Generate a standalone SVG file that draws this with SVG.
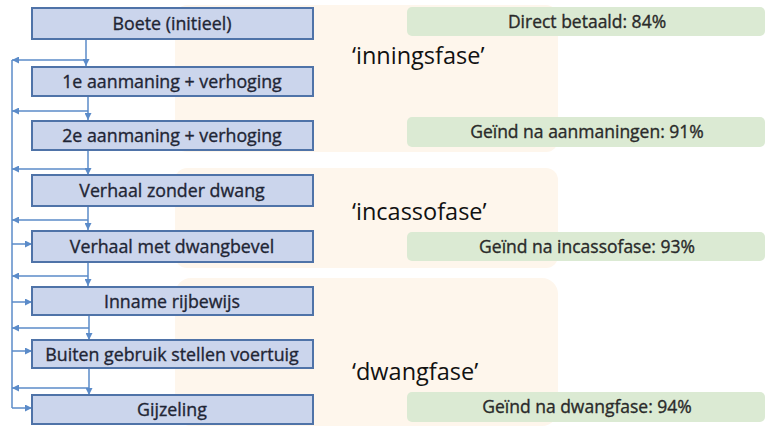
<svg xmlns="http://www.w3.org/2000/svg" width="768" height="429" viewBox="0 0 768 429">
<defs>
<style>
.phase-bg{fill:#fef6ec}
.box rect{fill:#cbd5ec;stroke:#4f73a8;stroke-width:2}
.box text{font-family:"Open Sans","Liberation Sans",sans-serif;font-size:17.8px;fill:#1f2535;stroke:#1f2535;stroke-width:0.35px;text-anchor:middle}
.res rect{fill:#dbead3}
.res text{font-family:"Open Sans","Liberation Sans",sans-serif;font-size:17.5px;fill:#2a2a2a;stroke:#2a2a2a;stroke-width:0.35px;text-anchor:middle}
.phase{font-family:"Open Sans","Liberation Sans",sans-serif;font-size:23.5px;fill:#111}
.conn line{stroke:#5b8bc9;stroke-width:1.5;fill:none}
</style>
<marker id="ah" viewBox="0 0 10 10" refX="10" refY="5" markerWidth="7" markerHeight="7" markerUnits="userSpaceOnUse" orient="auto">
<path d="M0,0 L10,5 L0,10 Z" fill="#5b8bc9"/>
</marker>
</defs>
<rect width="768" height="429" fill="#ffffff"/>
<g id="phase-backgrounds">
<rect class="phase-bg" x="175" y="5" width="383" height="147" rx="12"/>
<rect class="phase-bg" x="175" y="168" width="383" height="100" rx="12"/>
<rect class="phase-bg" x="175" y="278" width="383" height="148" rx="16"/>
</g>
<g id="connectors" class="conn">
<line x1="12" y1="60" x2="12" y2="408"/>
<line x1="86" y1="39" x2="86" y2="66" marker-end="url(#ah)"/>
<line x1="86" y1="60" x2="12" y2="60" marker-end="url(#ah)"/>
<line x1="88" y1="96" x2="88" y2="120" marker-end="url(#ah)"/>
<line x1="88" y1="111" x2="12" y2="111" marker-end="url(#ah)"/>
<line x1="88" y1="150" x2="88" y2="175" marker-end="url(#ah)"/>
<line x1="88" y1="169" x2="12" y2="169" marker-end="url(#ah)"/>
<line x1="88" y1="206" x2="88" y2="230" marker-end="url(#ah)"/>
<line x1="88" y1="220" x2="12" y2="220" marker-end="url(#ah)"/>
<line x1="88" y1="262" x2="88" y2="286" marker-end="url(#ah)"/>
<line x1="88" y1="276" x2="12" y2="276" marker-end="url(#ah)"/>
<line x1="89" y1="315" x2="89" y2="340" marker-end="url(#ah)"/>
<line x1="89" y1="328" x2="12" y2="328" marker-end="url(#ah)"/>
<line x1="89" y1="368" x2="89" y2="395" marker-end="url(#ah)"/>
<line x1="89" y1="388" x2="12" y2="388" marker-end="url(#ah)"/>
<line x1="12" y1="244" x2="32" y2="244" marker-end="url(#ah)"/>
<line x1="12" y1="302" x2="32" y2="302" marker-end="url(#ah)"/>
<line x1="12" y1="351" x2="32" y2="351" marker-end="url(#ah)"/>
<line x1="12" y1="408" x2="32" y2="408" marker-end="url(#ah)"/>
</g>
<g id="boete" class="box"><rect x="32" y="8" width="281" height="31"/><text x="172" y="30">Boete (initieel)</text></g>
<g id="aanmaning1" class="box"><rect x="32" y="67" width="281" height="29"/><text x="172" y="88">1e aanmaning + verhoging</text></g>
<g id="aanmaning2" class="box"><rect x="32" y="121" width="281" height="29"/><text x="172" y="142">2e aanmaning + verhoging</text></g>
<g id="verhaal-zonder" class="box"><rect x="32" y="175" width="281" height="31"/><text x="172" y="197">Verhaal zonder dwang</text></g>
<g id="verhaal-met" class="box"><rect x="32" y="231" width="281" height="31"/><text x="172" y="253">Verhaal met dwangbevel</text></g>
<g id="inname" class="box"><rect x="32" y="287" width="281" height="28"/><text x="172" y="307.5">Inname rijbewijs</text></g>
<g id="buiten-gebruik" class="box"><rect x="32" y="340" width="281" height="28"/><text x="172" y="360.5">Buiten gebruik stellen voertuig</text></g>
<g id="gijzeling" class="box"><rect x="32" y="395" width="281" height="29"/><text x="172" y="416">Gijzeling</text></g>
<g id="res-direct" class="res"><rect x="407" y="7" width="358" height="29" rx="5"/><text x="587" y="27.5">Direct betaald: 84%</text></g>
<g id="res-aanmaningen" class="res"><rect x="407" y="117" width="358" height="30" rx="5"/><text x="587" y="138">Geïnd na aanmaningen: 91%</text></g>
<g id="res-incasso" class="res"><rect x="407" y="232" width="358" height="29" rx="5"/><text x="587" y="252.5">Geïnd na incassofase: 93%</text></g>
<g id="res-dwang" class="res"><rect x="407" y="392" width="358" height="30" rx="5"/><text x="587" y="413">Geïnd na dwangfase: 94%</text></g>
<g id="label-inningsfase"><text class="phase" x="352" y="64">‘inningsfase’</text></g>
<g id="label-incassofase"><text class="phase" x="352" y="220">‘incassofase’</text></g>
<g id="label-dwangfase"><text class="phase" x="352" y="380">‘dwangfase’</text></g>
</svg>
